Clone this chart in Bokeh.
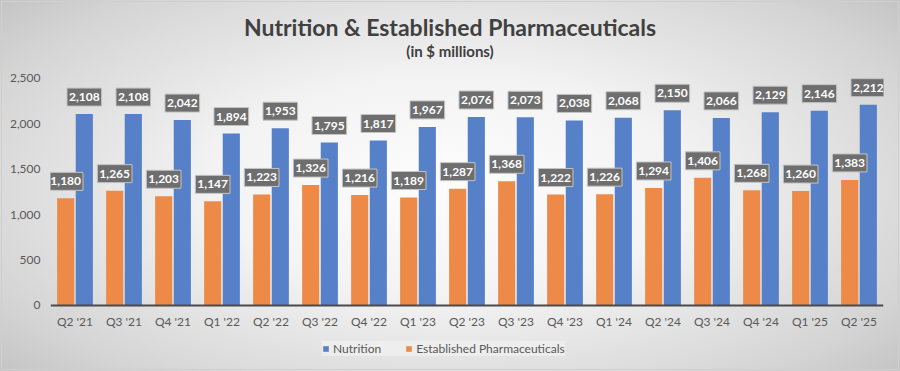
from bokeh.plotting import figure
from bokeh.models import (ColumnDataSource, FactorRange, Legend, LegendItem, Label,
                          FixedTicker, NumeralTickFormatter, Range1d)
from bokeh.core.properties import value
from bokeh.transform import dodge
from bokeh.embed import file_html
from bokeh.resources import INLINE

quarters = ["Q2 '21", "Q3 '21", "Q4 '21", "Q1 '22", "Q2 '22", "Q3 '22", "Q4 '22", "Q1 '23",
            "Q2 '23", "Q3 '23", "Q4 '23", "Q1 '24", "Q2 '24", "Q3 '24", "Q4 '24", "Q1 '25", "Q2 '25"]
nutrition = [2108, 2108, 2042, 1894, 1953, 1795, 1817, 1967, 2076, 2073, 2038, 2068, 2150,
             2066, 2129, 2146, 2212]
established = [1180, 1265, 1203, 1147, 1223, 1326, 1216, 1189, 1287, 1368, 1222, 1226, 1294,
               1406, 1268, 1260, 1383]
y_ticks = [0, 500, 1000, 1500, 2000, 2500]

FONT = "Lato"
BLUE = "#5681c9"
ORANGE = "#ee8a48"

# the plotting frame spans almost the full height; the value axis maps 0..2500
# onto the chart area and the extra room holds the titles and the legend
Y_MIN, Y_MAX = -705, 3337

src = ColumnDataSource(dict(
    q=quarters,
    nut=nutrition,
    est=established,
    nut_lbl=[f"{v:,}" for v in nutrition],
    est_lbl=[f"{v:,}" for v in established],
))

p = figure(x_range=FactorRange(*quarters, range_padding=0), y_range=Range1d(Y_MIN, Y_MAX),
           width=900, height=371, output_backend="svg", toolbar_location=None,
           min_border_left=50, min_border_right=17, min_border_top=2, min_border_bottom=2)

p.background_fill_alpha = 0
p.border_fill_alpha = 0
p.outline_line_color = None
p.styles = {
    "background": "radial-gradient(ellipse 75% 85% at 50% 50%, #fdfdfd 0%, #f3f3f3 35%, #d4d4d4 75%, #b8b8b8 100%)",
    "outline": "1px solid #cfcfcf",
    "outline-offset": "-2px",
}

p.add_layout(Label(x=399.5, y=343, x_units="screen", y_units="screen",
                   text="Nutrition & Established Pharmaceuticals", text_align="center",
                   text_baseline="middle", text_font=FONT, text_font_size="23px",
                   text_font_style="bold", text_color="#404040"))
p.add_layout(Label(x=399.5, y=319, x_units="screen", y_units="screen",
                   text="(in $ millions)", text_align="center",
                   text_baseline="middle", text_font=FONT, text_font_size="15px",
                   text_font_style="bold", text_color="#404040"))

r_est = p.vbar(x=dodge("q", -0.19, range=p.x_range), top="est", width=0.35, source=src,
               fill_color=ORANGE, line_color=None)
r_nut = p.vbar(x=dodge("q", 0.19, range=p.x_range), top="nut", width=0.35, source=src,
               fill_color=BLUE, line_color=None)

for field, top, off in (("est_lbl", "est", -0.19), ("nut_lbl", "nut", 0.19)):
    p.text(x=dodge("q", off, range=p.x_range), y=top, text=field, source=src,
           text_align="center", text_baseline="bottom", y_offset=-8,
           text_font=value(FONT), text_font_size="12px", text_font_style="bold",
           text_color="white", background_fill_color="#6e6e6e",
           border_line_color="#c4c4c4", border_line_width=1, padding=(2, 5))

p.xgrid.grid_line_color = None
p.ygrid.grid_line_color = None

p.yaxis.ticker = FixedTicker(ticks=y_ticks)
p.yaxis.formatter = NumeralTickFormatter(format="0,0")
p.yaxis.axis_line_color = None
p.yaxis.major_tick_line_color = None
p.yaxis.minor_tick_line_color = None
p.yaxis.major_tick_out = 0
p.yaxis.major_tick_in = 0
p.yaxis.major_label_standoff = 10
p.yaxis.major_label_text_font = FONT
p.yaxis.major_label_text_font_size = "12px"
p.yaxis.major_label_text_color = "#595959"

p.xaxis.fixed_location = 0
p.xaxis.axis_line_color = "#4a4a4a"
p.xaxis.axis_line_width = 2
p.xaxis.major_tick_line_color = None
p.xaxis.minor_tick_line_color = None
p.xaxis.major_tick_out = 0
p.xaxis.major_tick_in = 0
p.xaxis.major_label_standoff = 9
p.xaxis.major_label_text_font = FONT
p.xaxis.major_label_text_font_size = "12px"
p.xaxis.major_label_text_color = "#595959"

legend = Legend(items=[LegendItem(label="Nutrition", renderers=[r_nut]),
                       LegendItem(label="Established Pharmaceuticals", renderers=[r_est])],
                orientation="horizontal", location=(272, 13),
                label_text_font=FONT, label_text_font_size="12px", label_text_color="#595959",
                glyph_width=7, glyph_height=7, label_standoff=4, spacing=24,
                label_height=15, padding=5, margin=0,
                background_fill_color="#f4f4f4", background_fill_alpha=0.6,
                border_line_color=None)
p.add_layout(legend)

open("out.html", "w").write(file_html(p, INLINE))
